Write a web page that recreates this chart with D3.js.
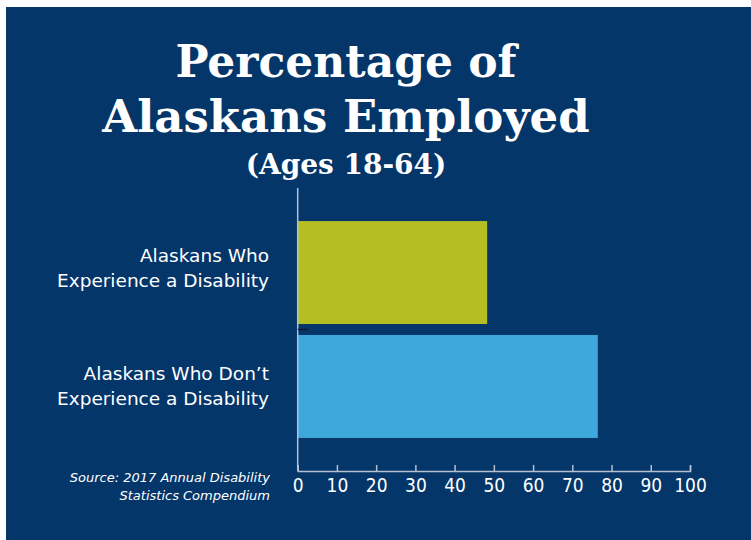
<!DOCTYPE html>
<html>
<head>
<meta charset="utf-8">
<script src="https://cdn.jsdelivr.net/npm/d3@7"></script>
<style>
  body { margin: 0; background: #fff; }
  svg { display: block; }
</style>
</head>
<body>
<svg width="751" height="540"></svg>
<script>
    // data
    const categories = [
      ["Alaskans Who", "Experience a Disability"],
      ["Alaskans Who Don\u2019t", "Experience a Disability"]
    ];
    const values = [48.3, 76.5];
    const barColors = ["#b5bf23", "#3ea8dc"];
    const tickValues = [0, 10, 20, 30, 40, 50, 60, 70, 80, 90, 100];
    const titleLines = ["Percentage of", "Alaskans Employed"];
    const subtitle = "(Ages 18-64)";
    const sourceLines = ["Source: 2017 Annual Disability", "Statistics Compendium"];

    const svg = d3.select("svg");
    const bg = "#04366a";
    const axisColor = "#b3c1d3";
    const sans = "'DejaVu Sans', sans-serif";
    const sansNarrow = "'DejaVu Sans Condensed', 'DejaVu Sans', sans-serif";

    // panel
    svg.append("rect")
      .attr("x", 6).attr("y", 7)
      .attr("width", 745).attr("height", 533)
      .attr("fill", bg);

    // title
    svg.selectAll(".title")
      .data(titleLines)
      .enter().append("text")
      .attr("class", "title")
      .attr("x", 346)
      .attr("y", (d, i) => 77 + i * 55)
      .attr("text-anchor", "middle")
      .style("font-family", "'DejaVu Serif', serif")
      .style("font-weight", "bold")
      .style("font-size", (d, i) => i === 0 ? "44px" : "45px")
      .style("fill", "#fff")
      .text(d => d);

    svg.append("text")
      .attr("x", 346)
      .attr("y", 174)
      .attr("text-anchor", "middle")
      .style("font-family", "'DejaVu Serif', serif")
      .style("font-weight", "bold")
      .style("font-size", "28px")
      .style("fill", "#fff")
      .text(subtitle);

    const x = d3.scaleLinear()
      .domain([0, 100])
      .range([297.7, 690]);

    const y = d3.scaleBand()
      .domain(d3.range(values.length))
      .range([188, 471])
      .paddingInner(0.0965)
      .paddingOuter(0.29);

    // x axis, ticks pointing up
    const xAxis = svg.append("g")
      .attr("transform", `translate(0,${y.range()[1]})`)
      .call(d3.axisBottom(x)
        .tickValues(tickValues)
        .tickSizeInner(-6)
        .tickSizeOuter(-6)
        .tickPadding(8));

    xAxis.select(".domain").attr("stroke", axisColor).attr("stroke-width", 1.5);
    xAxis.selectAll(".tick line").attr("stroke", axisColor).attr("stroke-width", 1.5);
    xAxis.selectAll(".tick text")
      .attr("fill", "#fff")
      .style("font-family", sansNarrow)
      .style("font-size", "19px");

    // bars
    svg.selectAll(".bar")
      .data(values)
      .enter().append("rect")
      .attr("class", "bar")
      .attr("x", x(0))
      .attr("y", (d, i) => y(i))
      .attr("width", d => x(d) - x(0))
      .attr("height", y.bandwidth())
      .attr("fill", (d, i) => barColors[i]);

    // y axis line
    svg.append("line")
      .attr("x1", x(0)).attr("x2", x(0))
      .attr("y1", y.range()[0]).attr("y2", y.range()[1])
      .attr("stroke", axisColor)
      .attr("stroke-width", 1.5);

    // little dark tick between the categories
    const mid = (y(0) + y.bandwidth() + y(1)) / 2;
    svg.append("line")
      .attr("x1", x(0)).attr("x2", x(0) + 10)
      .attr("y1", mid).attr("y2", mid)
      .attr("stroke", "#0d1b2e")
      .attr("stroke-width", 1.5);

    // category labels
    const labels = svg.selectAll(".cat")
      .data(categories)
      .enter().append("text")
      .attr("class", "cat")
      .attr("text-anchor", "end")
      .style("font-family", sans)
      .style("font-size", "18.5px")
      .style("fill", "#fff");

    labels.selectAll("tspan")
      .data((d, i) => d.map(t => ({t, i})))
      .enter().append("tspan")
      .attr("x", 269)
      .attr("y", (d, j) => y(d.i) + y.bandwidth() / 2 - 11 + j * 25 + d.i * 5)
      .text(d => d.t);

    // source note
    svg.selectAll(".src")
      .data(sourceLines)
      .enter().append("text")
      .attr("class", "src")
      .attr("x", 270)
      .attr("y", (d, i) => 482 + i * 18)
      .attr("text-anchor", "end")
      .style("font-family", sans)
      .style("font-style", "italic")
      .style("font-size", "13px")
      .style("fill", "#fff")
      .text(d => d);
</script>
</body>
</html>
